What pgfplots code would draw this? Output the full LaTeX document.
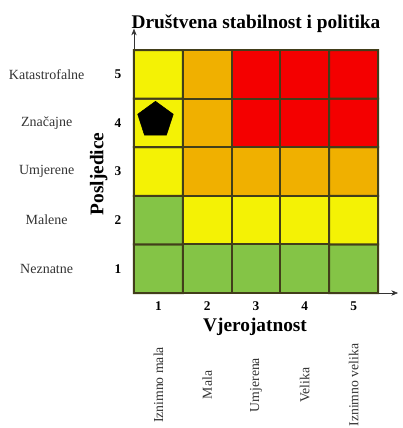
\documentclass[border=0pt]{standalone}
\usepackage{pgfplots}
\pgfplotsset{compat=1.18}
\usepackage{fontspec}
\setmainfont{Liberation Serif}
\usetikzlibrary{arrows.meta}
\definecolor{border}{RGB}{66,62,26}
\pgfplotstableread{
x y c
1 1 0
2 1 0
3 1 0
4 1 0
5 1 0
1 2 0
2 2 1
3 2 1
4 2 1
5 2 1
1 3 1
2 3 2
3 3 2
4 3 2
5 3 2
1 4 1
2 4 2
3 4 3
4 4 3
5 4 3
1 5 1
2 5 2
3 5 3
4 5 3
5 5 3
}\riskdata
\tikzset{leftlab/.style={font=\fontsize{10.5}{12}\selectfont, text=black!80, anchor=center},
  botlab/.style={font=\fontsize{10.3}{12}\selectfont, text=black!80, rotate=90, anchor=center}}
\begin{document}
\begin{tikzpicture}
\begin{axis}[
  scale only axis, width=183pt, height=182.25pt,
  xmin=0.5, xmax=5.5, ymin=0.5, ymax=5.5,
  axis x line=bottom, axis y line=left,
  x axis line style={-{Stealth[length=5pt,width=4pt]}, shorten >=-15pt, black!80},
  y axis line style={-{Stealth[length=5pt,width=4pt]}, shorten >=-16pt, black!80},
  xtick={1,2,3,4,5}, ytick={1,2,3,4,5},
  major tick length=0pt,
  /pgf/number format/assume math mode=true,
  ticklabel style={font=\fontsize{10}{12}\selectfont\bfseries},
  xticklabel style={yshift=-3pt},
  yticklabel style={xshift=-6pt},
  title={Društvena stabilnost i politika},
  title style={font=\fontsize{14.5}{16}\selectfont\bfseries, at={(0.5,1)}, anchor=center, yshift=14pt},
  xlabel={Vjerojatnost},
  xlabel style={font=\fontsize{14.5}{16}\selectfont\bfseries, at={(axis description cs:0.496,-0.14)}, anchor=center},
  ylabel={Posljedice},
  ylabel style={font=\fontsize{14.5}{16}\selectfont\bfseries, at={(axis description cs:-0.145,0.49)}, anchor=center},
  colormap={risk}{rgb255=(132,196,70) rgb255=(244,242,5) rgb255=(240,176,0) rgb255=(244,0,0)},
  colormap access=direct,
  clip=false,
]
\addplot[matrix plot*, mesh/cols=5, point meta=explicit, draw=border, line width=1.5pt]
  table[x=x, y=y, meta=c] {\riskdata};
\addplot[only marks, mark=pentagon*, mark size=14pt, black] coordinates {(0.94,4.06)};
\node[leftlab] at ([xshift=-65.5pt]axis cs:0.5,1) {Neznatne};
\node[leftlab] at ([xshift=-65.5pt]axis cs:0.5,2) {Malene};
\node[leftlab] at ([xshift=-65.5pt]axis cs:0.5,3) {Umjerene};
\node[leftlab] at ([xshift=-65.5pt]axis cs:0.5,4) {Značajne};
\node[leftlab] at ([xshift=-65.5pt]axis cs:0.5,5) {Katastrofalne};
\node[botlab] at ([yshift=-69pt]axis cs:1,0.5) {Iznimno mala};
\node[botlab] at ([yshift=-69pt]axis cs:2,0.5) {Mala};
\node[botlab] at ([yshift=-69pt]axis cs:3,0.5) {Umjerena};
\node[botlab] at ([yshift=-69pt]axis cs:4,0.5) {Velika};
\node[botlab] at ([yshift=-69pt]axis cs:5,0.5) {Iznimno velika};
\end{axis}
\pgfresetboundingbox
\useasboundingbox (-100.5pt,-101.25pt) rectangle (201.75pt,219.75pt);
\end{tikzpicture}
\end{document}
